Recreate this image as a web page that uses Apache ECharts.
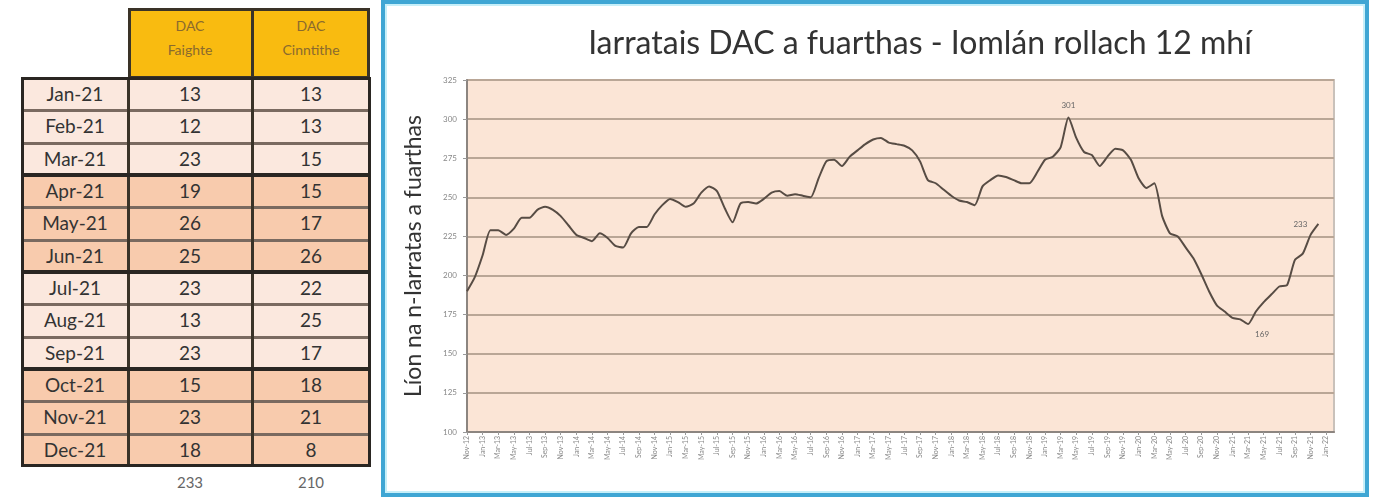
<!DOCTYPE html>
<html>
<head>
<meta charset="utf-8">
<script src="https://cdn.jsdelivr.net/npm/echarts@6/dist/echarts.min.js"></script>
<style>
  html, body { margin: 0; padding: 0; background: #fff; }
  body { width: 1386px; height: 497px; position: relative; overflow: hidden; font-family: Lato, "Noto Sans", sans-serif; }
  #tbl { position: absolute; left: 0; top: 0; width: 380px; height: 497px; }
  #tbl div { position: absolute; box-sizing: border-box; }
  .cell { text-align: center; color: #333; font-size: 19px; }
  .hdr { text-align: center; color: #8a6a2e; font-size: 14px; line-height: 24px; }
  #box { position: absolute; left: 381px; top: 0; width: 988px; height: 497px; box-sizing: border-box;
         border: 4px solid #3fa6d4; box-shadow: inset 0 0 0 2px #c6eff9; }
  #chart { width: 100%; height: 100%; }
</style>
</head>
<body>
<div id="tbl"></div>
<div id="box"><div id="chart"></div></div>
<script>
"use strict";
// table: 2021 monthly DAC figures
var tableMonths = ['Jan-21', 'Feb-21', 'Mar-21', 'Apr-21', 'May-21', 'Jun-21',
                   'Jul-21', 'Aug-21', 'Sep-21', 'Oct-21', 'Nov-21', 'Dec-21'];
var dacFaighte = [13, 12, 23, 19, 26, 25, 23, 13, 23, 15, 23, 18];
var dacCinntithe = [13, 13, 15, 15, 17, 26, 22, 25, 17, 18, 21, 8];
var tableHeaders = [['DAC', 'Faighte'], ['DAC', 'Cinntithe']];

// chart: rolling 12 month total of requests received
var chartMonths = [
  'Nov-12', 'Dec-12',
  'Jan-13', 'Feb-13', 'Mar-13', 'Apr-13', 'May-13', 'Jun-13', 'Jul-13', 'Aug-13', 'Sep-13', 'Oct-13', 'Nov-13', 'Dec-13',
  'Jan-14', 'Feb-14', 'Mar-14', 'Apr-14', 'May-14', 'Jun-14', 'Jul-14', 'Aug-14', 'Sep-14', 'Oct-14', 'Nov-14', 'Dec-14',
  'Jan-15', 'Feb-15', 'Mar-15', 'Apr-15', 'May-15', 'Jun-15', 'Jul-15', 'Aug-15', 'Sep-15', 'Oct-15', 'Nov-15', 'Dec-15',
  'Jan-16', 'Feb-16', 'Mar-16', 'Apr-16', 'May-16', 'Jun-16', 'Jul-16', 'Aug-16', 'Sep-16', 'Oct-16', 'Nov-16', 'Dec-16',
  'Jan-17', 'Feb-17', 'Mar-17', 'Apr-17', 'May-17', 'Jun-17', 'Jul-17', 'Aug-17', 'Sep-17', 'Oct-17', 'Nov-17', 'Dec-17',
  'Jan-18', 'Feb-18', 'Mar-18', 'Apr-18', 'May-18', 'Jun-18', 'Jul-18', 'Aug-18', 'Sep-18', 'Oct-18', 'Nov-18', 'Dec-18',
  'Jan-19', 'Feb-19', 'Mar-19', 'Apr-19', 'May-19', 'Jun-19', 'Jul-19', 'Aug-19', 'Sep-19', 'Oct-19', 'Nov-19', 'Dec-19',
  'Jan-20', 'Feb-20', 'Mar-20', 'Apr-20', 'May-20', 'Jun-20', 'Jul-20', 'Aug-20', 'Sep-20', 'Oct-20', 'Nov-20', 'Dec-20',
  'Jan-21', 'Feb-21', 'Mar-21', 'Apr-21', 'May-21', 'Jun-21', 'Jul-21', 'Aug-21', 'Sep-21', 'Oct-21', 'Nov-21', 'Dec-21',
  'Jan-22', 'Feb-22'
];
var rollingTotal = [
  190, 199,
  213, 229, 229, 226, 230, 237, 237, 242, 244, 242, 238, 232,
  226, 224, 222, 227, 224, 219, 218, 227, 231, 231, 239, 245,
  249, 247, 244, 246, 253, 257, 254, 243, 234, 246, 247, 246,
  249, 253, 254, 251, 252, 251, 250, 262, 273, 274, 270, 276,
  280, 284, 287, 288, 285, 284, 283, 280, 273, 261, 259, 255,
  251, 248, 247, 245, 257, 261, 264, 263, 261, 259, 259, 266,
  274, 276, 282, 301, 288, 279, 277, 270, 276, 281, 280, 274,
  262, 256, 259, 238, 227, 225, 218, 211, 201, 190, 181, 177,
  173, 172, 169, 177, 183, 188, 193, 194, 210, 214, 226, 233,
  null, null
];
var yTicks = [100, 125, 150, 175, 200, 225, 250, 275, 300, 325];

// ---- table ----
var tbl = document.getElementById('tbl');
function add(style, text, cls) {
  var d = document.createElement('div');
  if (cls) d.className = cls;
  d.setAttribute('style', style);
  if (text !== undefined) d.innerHTML = text;
  tbl.appendChild(d);
  return d;
}
var colX = [22, 128, 252, 370];
var top0 = 78, rowH = 32.33;
var light = '#fbe8de', dark = '#f8cbad';

// header
add('left:' + colX[1] + 'px;top:8px;width:' + (colX[3] - colX[1]) + 'px;height:71px;background:#f9bb10;border:3px solid #3a3328;');
tableHeaders.forEach(function (h, c) {
  add('left:' + colX[c + 1] + 'px;top:14px;width:' + (colX[c + 2] - colX[c + 1]) + 'px;height:60px;', h.join('<br>'), 'hdr');
});
add('left:' + (colX[2] - 1) + 'px;top:8px;width:3px;height:71px;background:#3a3328;');

tableMonths.forEach(function (m, i) {
  var q = Math.floor(i / 3);
  var bg = q % 2 === 0 ? light : dark;
  var y = top0 + i * rowH;
  var vals = [m, dacFaighte[i], dacCinntithe[i]];
  vals.forEach(function (v, c) {
    add('left:' + colX[c] + 'px;top:' + y + 'px;width:' + (colX[c + 1] - colX[c]) + 'px;height:' + rowH +
        'px;line-height:' + rowH + 'px;background:' + bg + ';', String(v), 'cell');
  });
  if (i % 3 !== 0) {
    add('left:' + colX[0] + 'px;top:' + (y - 1) + 'px;width:' + (colX[3] - colX[0]) + 'px;height:3px;background:#7a6a60;');
  }
});
[1, 2].forEach(function (c) {
  add('left:' + (colX[c] - 1) + 'px;top:' + top0 + 'px;width:3px;height:' + (12 * rowH) + 'px;background:#3a3328;');
});
for (var q = 0; q < 4; q++) {
  add('left:' + (colX[0] - 1) + 'px;top:' + (top0 - 1 + q * 3 * rowH) + 'px;width:' + (colX[3] - colX[0] + 2) +
      'px;height:' + (3 * rowH + 2) + 'px;border:3px solid #2a2622;');
}
var sums = [dacFaighte, dacCinntithe].map(function (a) { return a.reduce(function (s, v) { return s + v; }, 0); });
sums.forEach(function (s, c) {
  add('left:' + colX[c + 1] + 'px;top:473px;width:' + (colX[c + 2] - colX[c + 1]) + 'px;height:22px;text-align:center;color:#666;font-size:15px;', String(s));
});

// ---- chart ----
var chart = echarts.init(document.getElementById('chart'));
var lastIdx = 109;
var option = {
  animation: false,
  title: {
    text: 'Iarratais DAC a fuarthas - Iomlán rollach 12 mhí',
    left: 535,
    textAlign: 'center',
    top: 24,
    padding: 0,
    textStyle: { fontFamily: 'Lato', fontSize: 32, fontWeight: 'normal', color: '#333' }
  },
  grid: {
    left: 82, right: 31, top: 76, bottom: 61,
    show: true,
    backgroundColor: '#fbe5d6',
    borderColor: '#c9c1ba',
    borderWidth: 2
  },
  xAxis: {
    type: 'category',
    data: chartMonths,
    boundaryGap: false,
    axisLine: { lineStyle: { color: '#8c8580', width: 2 } },
    axisTick: { interval: 1, length: 3, lineStyle: { color: '#999' } },
    axisLabel: { interval: 1, rotate: 90, fontSize: 7, color: '#888', margin: 4, fontFamily: 'Lato' }
  },
  yAxis: {
    type: 'value',
    min: yTicks[0],
    max: yTicks[yTicks.length - 1],
    interval: 25,
    name: 'Líon na n-Iarratas a fuarthas',
    nameLocation: 'middle',
    nameGap: 42,
    nameTextStyle: { fontFamily: 'Lato', fontSize: 23, color: '#333' },
    axisLine: { show: true, lineStyle: { color: '#8c8580', width: 2 } },
    axisTick: { show: true, length: 4, lineStyle: { color: '#999' } },
    axisLabel: { fontSize: 8, color: '#888', margin: 10, fontFamily: 'Lato' },
    splitLine: { lineStyle: { color: '#b9a696', width: 2 } }
  },
  series: [{
    type: 'line',
    data: rollingTotal,
    showSymbol: false,
    smooth: 0.2,
    lineStyle: { color: '#574c44', width: 2 },
    markPoint: {
      symbol: 'circle',
      symbolSize: 0,
      label: { fontSize: 8, color: '#666', fontFamily: 'Lato' },
      data: [
        { type: 'max', label: { position: 'top', distance: 8 } },
        { type: 'min', label: { position: 'bottom', distance: 6, offset: [14, 0] } },
        { coord: [lastIdx, rollingTotal[lastIdx]], value: rollingTotal[lastIdx], label: { position: 'left', distance: 11 } }
      ]
    }
  }]
};
chart.setOption(option);
</script>
</body>
</html>
